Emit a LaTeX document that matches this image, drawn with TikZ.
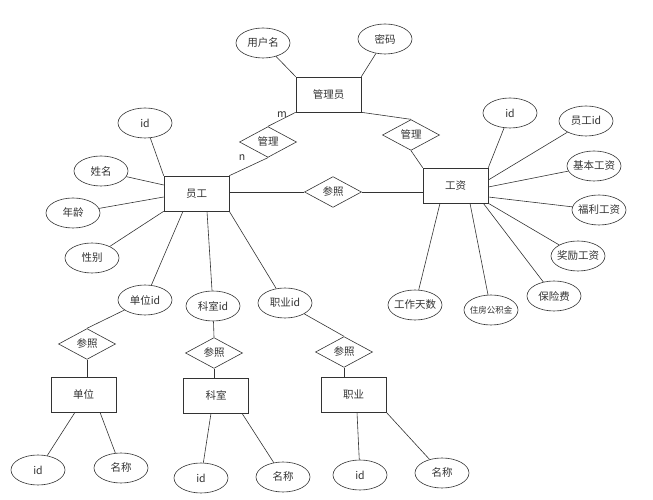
\documentclass[tikz,border=0pt]{standalone}
\usepackage{fontspec}
\setmainfont{Noto Sans CJK SC}
\usetikzlibrary{shapes.geometric}

\begin{document}
\begin{tikzpicture}[x=1pt,y=1pt,color=black!80,line width=0.6pt,
	every node/.style={font=\fontsize{10.5}{12}\selectfont},
	entity/.style={draw, rectangle, minimum width=65pt, minimum height=35pt, inner sep=0pt},
	attr/.style={draw, ellipse, minimum width=54pt, minimum height=30pt, inner xsep=-5pt, inner ysep=0pt},
	rel/.style={draw, diamond, minimum width=57pt, minimum height=29pt, inner sep=0pt}]
	\useasboundingbox (0,0) rectangle (653,500);
	
	% Entities
	\node[entity] (gly) at (328.5,405.5) {管理员};
	\node[entity] (yg) at (196.5,306.5) {员工};
	\node[entity] (gz) at (455.5,314.5) {工资};
	\node[entity] (dw) at (83.5,105.5) {单位};
	\node[entity] (ks) at (216,104.5) {科室};
	\node[entity] (zy) at (353.5,105.5) {职业};
	
	% Relationships
	\node[rel] (gl1) at (268,358) {管理};
	\node[rel] (gl2) at (411,365) {管理};
	\node[rel] (cz) at (333,308) {参照};
	\node[rel] (cz1) at (87,156) {参照};
	\node[rel] (cz2) at (214,147) {参照};
	\node[rel] (cz3) at (344,148) {参照};
	
	% Attributes
	\node[attr] (yhm) at (263,457) {用户名};
	\node[attr] (mm) at (385,461) {密码};
	\node[attr] (yg-id) at (145,377) {id};
	\node[attr] (xm) at (101,329) {姓名};
	\node[attr] (nl) at (73,287) {年龄};
	\node[attr] (xb) at (92,242) {性别};
	\node[attr] (dwid) at (145,200) {单位id};
	\node[attr] (ksid) at (213,194) {科室id};
	\node[attr] (zyid) at (285,197) {职业id};
	\node[attr] (gz-id) at (510,387) {id};
	\node[attr] (ygid) at (586,379) {员工id};
	\node[attr] (jbgz) at (594,334) {基本工资};
	\node[attr] (flgz) at (599,290) {福利工资};
	\node[attr] (jlgz) at (578,244) {奖励工资};
	\node[attr] (bxf) at (554,204) {保险费};
	\node[attr, font=\fontsize{8.5}{10}\selectfont] (zfgjj) at (491,190) {住房公积金};
	\node[attr] (gzts) at (415,195) {工作天数};
	\node[attr] (dw-id) at (38,30) {id};
	\node[attr] (dw-mc) at (121,32) {名称};
	\node[attr] (ks-id) at (201,22) {id};
	\node[attr] (ks-mc) at (283,23) {名称};
	\node[attr] (zy-id) at (360,25) {id};
	\node[attr] (zy-mc) at (442,27) {名称};
	
	% Cardinality
	\node (m) at (282,385) {m};
	\node (n) at (242,342) {n};
	
	% Relationship lines
	\draw (gly.south west) -- (gl1.north);
	\draw (gl1.south) -- (yg.north east);
	\draw (gly.south east) -- (gl2.north);
	\draw (gl2.south) -- (gz.north west);
	\draw (cz.west) -- (cz.west -| yg.east);
	\draw (cz.east) -- (cz.east -| gz.west);
	\foreach \a/\r/\e in {dwid/cz1/dw, ksid/cz2/ks, zyid/cz3/zy}
	{
		\draw (\a) -- (\r.north);
		\draw (\r.south) -- (\r.south |- \e.north);
	}
	
	% Attribute lines
	\draw (yhm) -- (gly.north west);
	\draw (mm) -- (gly.north east);
	\draw (yg-id) -- (yg.north west);
	\draw (xm) -- ([yshift=8.5pt]yg.west);
	\draw (nl) -- ([yshift=-3.5pt]yg.west);
	\draw (xb) -- (yg.south west);
	\draw (dwid) -- ([xshift=-13.5pt]yg.south);
	\draw (ksid) -- ([xshift=10.5pt]yg.south);
	\draw (zyid) -- (yg.south east);
	
	\draw (gz-id) -- (gz.north east);
	\draw (ygid) -- ([yshift=5.5pt]gz.east);
	\draw (jbgz) -- ([yshift=-1.5pt]gz.east);
	\draw (flgz) -- ([yshift=-11.5pt]gz.east);
	\draw (jlgz) -- (gz.south east);
	\draw (bxf) -- ([xshift=-5pt]gz.south east);
	\draw (zfgjj) -- ([xshift=14.5pt]gz.south);
	\draw (gzts) -- ([xshift=-15.5pt]gz.south);
	
	\draw (dw-id) -- ([xshift=-8.5pt]dw.south);
	\draw (dw-mc) -- ([xshift=16.5pt]dw.south);
	\draw (ks-id) -- ([xshift=-5pt]ks.south);
	\draw (ks-mc) -- ([xshift=26pt]ks.south);
	\draw (zy-id) -- ([xshift=3.5pt]zy.south);
	\draw (zy-mc) -- (zy.south east);
\end{tikzpicture}
\end{document}
